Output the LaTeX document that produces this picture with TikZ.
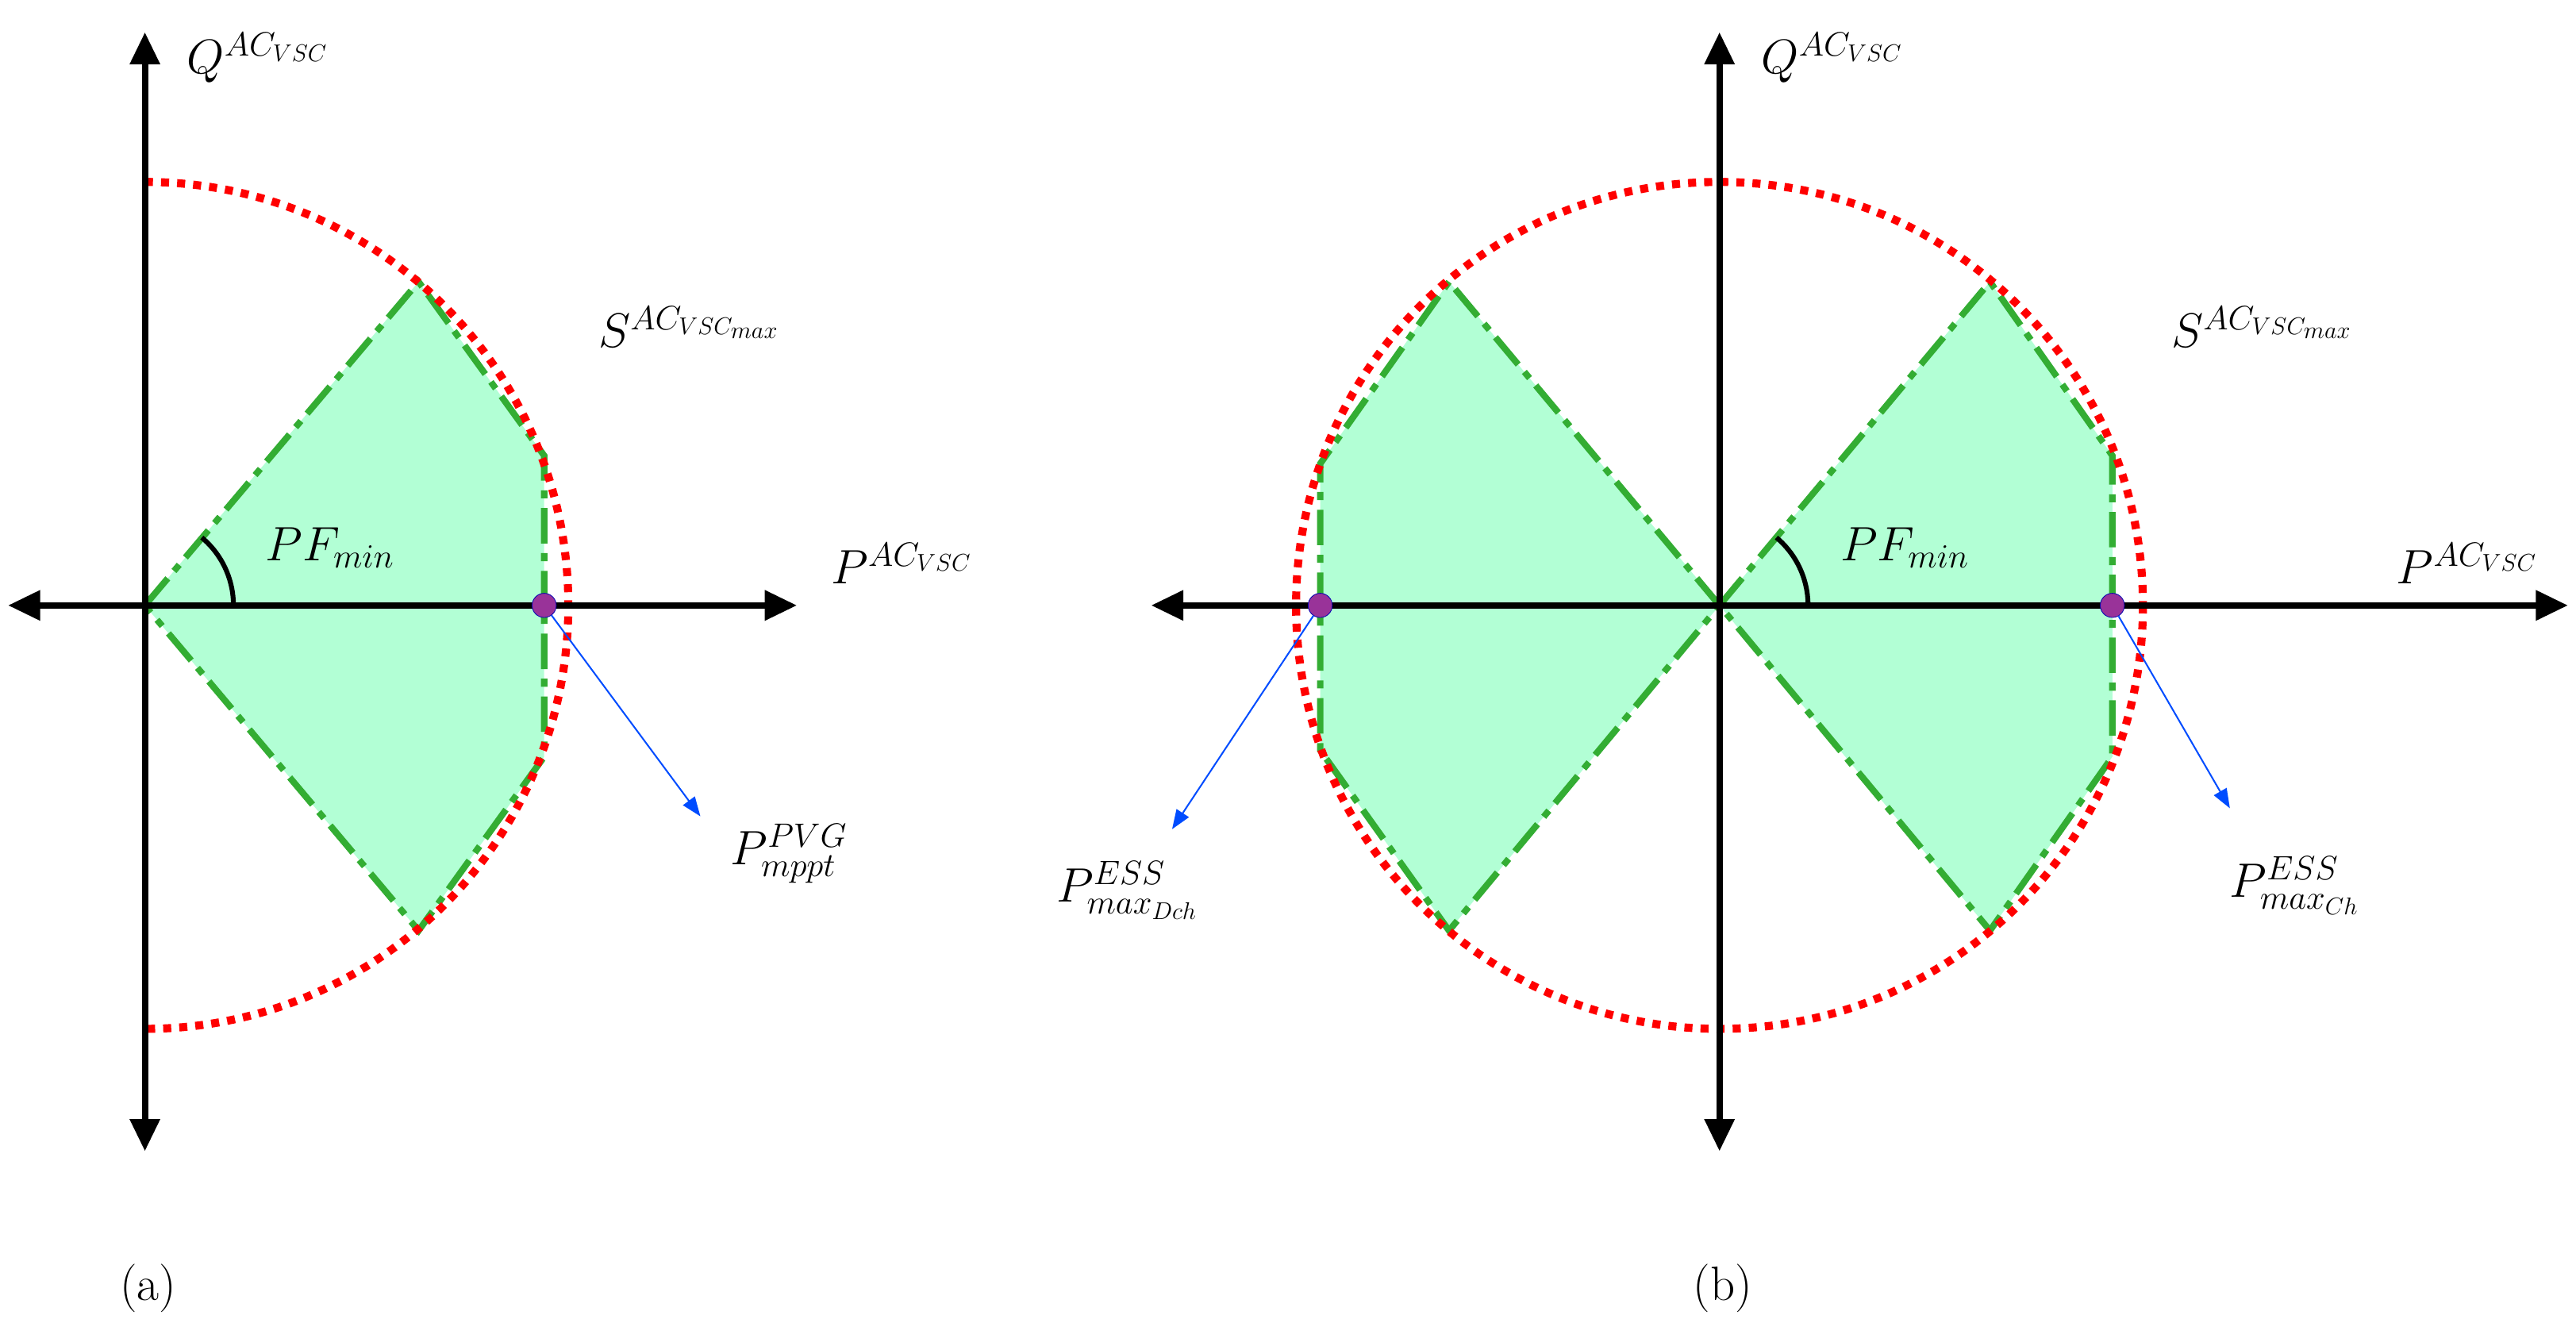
\documentclass[tikz,border=0pt]{standalone}
\usepackage{fix-cm}
\usetikzlibrary{arrows.meta}
\begin{document}
\begin{tikzpicture}[x=1pt,y=-1pt,
 ax/.style={line width=4pt,{Triangle[length=20pt,width=18pt]}-{Triangle[length=20pt,width=18pt]}},
 circ/.style={red,line width=5pt,dash pattern=on 5pt off 5pt},
 reg/.style={fill=green!55!cyan!30,draw=green!60!black!80,line width=4pt,dash pattern=on 22pt off 6pt on 5pt off 6pt},
 pt/.style={circle,fill=violet!80,draw=blue!70!black,inner sep=0pt,minimum size=15pt},
 lead/.style={blue!70!cyan,line width=1pt,-{Triangle[length=12pt,width=9pt]}},
 lab/.style={font=\fontsize{30}{36}\selectfont}]
\useasboundingbox (0,0) rectangle (1600,819);
% panel a
\coordinate (oa) at (90,376);
\path[reg] (oa) -- (260,175) -- (338,283) -- (338,470) -- (260,578) -- cycle;
\draw[circ] (90,113) arc[start angle=-90,end angle=90,radius=263];
\draw[ax] (5,376) -- (495,376);
\draw[ax] (90,20) -- (90,715);
\draw[line width=3pt] (145,376) arc[start angle=0,end angle=-50,radius=55];
\node[pt] (da) at (338,376) {};
\coordinate (ea) at (435,507);
\draw[lead] (da) -- (ea);
\node[lab] (qa) at (160,36) {$Q^{AC_{VSC}}$};
\node[lab] (pa) at (560,350) {$P^{AC_{VSC}}$};
\node[lab] (sa) at (428,203) {$S^{AC_{VSC_{max}}}$};
\node[lab] (fa) at (205,340) {$PF_{min}$};
\node[lab] (ma) at (490,530) {$P^{PVG}_{mppt}$};
\node[lab] (la) at (92,800) {(a)};
% panel b
\coordinate (ob) at (1068,376);
\path[reg] (ob) -- (1236,175) -- (1312,283) -- (1312,470) -- (1236,578) -- cycle;
\path[reg] (ob) -- (900,175) -- (820,288) -- (820,466) -- (900,578) -- cycle;
\draw[circ] (ob) circle[radius=263];
\draw[ax] (715,376) -- (1595,376);
\draw[ax] (1068,20) -- (1068,715);
\draw[line width=3pt] (1123,376) arc[start angle=0,end angle=-50,radius=55];
\node[pt] (db) at (1312,376) {};
\node[pt] (dc) at (820,376) {};
\draw[lead] (db) -- (1385,502);
\draw[lead] (dc) -- (728,515);
\node[lab] (qb) at (1138,36) {$Q^{AC_{VSC}}$};
\node[lab, anchor=west] (pb) at (1485,350) {$P^{AC_{VSC}}$};
\node[lab] (sb) at (1405,203) {$S^{AC_{VSC_{max}}}$};
\node[lab] (fb) at (1183,340) {$PF_{min}$};
\node[lab] (mb) at (1425,550) {$P^{ESS}_{max_{Ch}}$};
\node[lab] (mc) at (700,553) {$P^{ESS}_{max_{Dch}}$};
\node[lab] (lb) at (1070,800) {(b)};
\end{tikzpicture}
\end{document}
